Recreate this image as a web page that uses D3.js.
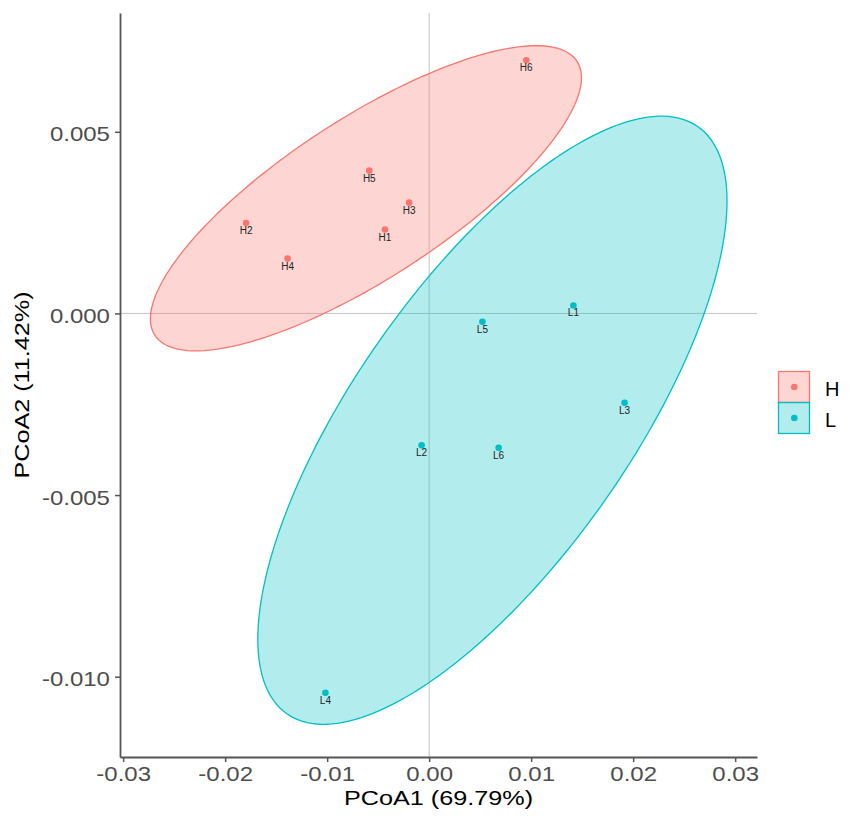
<!DOCTYPE html>
<html><head><meta charset="utf-8">
<script src="https://cdn.jsdelivr.net/npm/d3@7"></script>
<style>
body{margin:0;background:#fff}
text{font-family:"Liberation Sans",Arial,sans-serif}
</style>
</head><body>
<svg id="c" width="851" height="820"></svg>
<script>
// ---- data ----
const groups = ["H", "L"];
const groupColors = ["#F8766D", "#00BFC4"];
const sampleNames = ["H1","H2","H3","H4","H5","H6","L1","L2","L3","L4","L5","L6"];
const sampleGroup = ["H","H","H","H","H","H","L","L","L","L","L","L"];
const pcoa1 = [-0.00433,-0.01795,-0.00196,-0.01388,-0.00587,0.00952, 0.01414,-0.00074,0.01916,-0.01017,0.00522,0.00681];
const pcoa2 = [0.00231,0.00249,0.00305,0.00151,0.00393,0.00697, 0.00022,-0.00363,-0.00246,-0.01044,-0.00023,-0.00370];
const xTicks = [-0.03,-0.02,-0.01,0.00,0.01,0.02,0.03];
const yTicks = [-0.010,-0.005,0.000,0.005];
const xLimits = [-0.03031, 0.03214];
const yLimits = [-0.01221, 0.00827];
// 95% confidence ellipses (center, half-extents, correlation)
const ellCx = [-0.00620, 0.00620];
const ellCy = [0.00317, -0.00294];
const ellRx = [0.02113, 0.02300];
const ellRy = [0.00420, 0.00837];
const ellRho = [0.79, 0.72];
const xTitle = "PCoA1 (69.79%)";
const yTitle = "PCoA2 (11.42%)";

// ---- chart ----
const svg = d3.select("#c");
const L = 120, R = 757, T = 13, B = 757;
const x = d3.scaleLinear().domain(xLimits).range([L, R]);
const y = d3.scaleLinear().domain(yLimits).range([B, T]);
const color = d3.scaleOrdinal().domain(groups).range(groupColors);
const SX = 1.2;

// reference lines
svg.append("line").attr("x1", x(0)).attr("x2", x(0)).attr("y1", T).attr("y2", B)
  .attr("stroke", "#c4c4c4").attr("stroke-width", 1);
svg.append("line").attr("x1", L).attr("x2", R).attr("y1", y(0)).attr("y2", y(0))
  .attr("stroke", "#c4c4c4").attr("stroke-width", 1);

// ellipses
const line = d3.line().x(d => x(d[0])).y(d => y(d[1])).curve(d3.curveLinearClosed);
groups.forEach((g, i) => {
  const pts = d3.range(0, 200).map(k => {
    const t = k / 200 * 2 * Math.PI;
    return [ellCx[i] + ellRx[i] * Math.cos(t),
            ellCy[i] + ellRy[i] * (ellRho[i] * Math.cos(t) + Math.sqrt(1 - ellRho[i] ** 2) * Math.sin(t))];
  });
  svg.append("path").attr("d", line(pts))
    .attr("fill", color(g)).attr("fill-opacity", 0.3)
    .attr("stroke", color(g)).attr("stroke-width", 1.3);
});

// points and labels
const samples = sampleNames.map((n, i) => ({name: n, g: sampleGroup[i], x: pcoa1[i], y: pcoa2[i]}));
svg.append("g").selectAll("circle").data(samples).join("circle")
  .attr("cx", d => x(d.x)).attr("cy", d => y(d.y)).attr("r", 3.3)
  .attr("fill", d => color(d.g));
svg.append("g").selectAll("text").data(samples).join("text")
  .attr("x", d => x(d.x)).attr("y", d => y(d.y) + 11)
  .attr("text-anchor", "middle").attr("font-size", 10).attr("fill", "#222")
  .text(d => d.name);

// axes
const axColor = "#555";
const gx = svg.append("g").attr("transform", `translate(0,${B})`)
  .call(d3.axisBottom(x).tickValues(xTicks).tickFormat(d => d.toFixed(2)).tickSize(5).tickSizeOuter(0));
const gy = svg.append("g").attr("transform", `translate(${L},0)`)
  .call(d3.axisLeft(y).tickValues(yTicks).tickFormat(d => d.toFixed(3)).tickSize(5).tickSizeOuter(0));
[gx, gy].forEach(g => {
  g.select(".domain").attr("stroke", axColor).attr("stroke-width", 1.8);
  g.selectAll(".tick line").attr("stroke", axColor).attr("stroke-width", 1.5);
  g.selectAll(".tick text").attr("fill", "#4d4d4d").attr("font-size", 20)
    .attr("font-family", '"Liberation Sans",Arial,sans-serif');
});
gx.selectAll(".tick text").attr("y", 10).attr("dy", "0.71em").attr("transform", `scale(${SX},1)`);
gy.selectAll(".tick text").attr("x", -8.4).attr("dy", "0.45em").attr("transform", `scale(${SX},1)`);

// axis titles
svg.append("text").attr("transform", `translate(${(L + R) / 2},805) scale(${SX},1)`)
  .attr("text-anchor", "middle").attr("font-size", 21).attr("fill", "#000").text(xTitle);
svg.append("text").attr("transform", `translate(28.6,${(T + B) / 2}) rotate(-90) scale(${SX},1)`)
  .attr("text-anchor", "middle").attr("font-size", 21).attr("fill", "#000").text(yTitle);

// legend
const leg = svg.append("g").attr("transform", "translate(778.5,371.5)");
groups.forEach((g, i) => {
  const gg = leg.append("g").attr("transform", `translate(0,${i * 31})`);
  gg.append("rect").attr("width", 31).attr("height", 31)
    .attr("fill", color(g)).attr("fill-opacity", 0.3)
    .attr("stroke", color(g)).attr("stroke-width", 1.3);
  gg.append("circle").attr("cx", 15.8).attr("cy", 15.5).attr("r", 3.3).attr("fill", color(g));
  gg.append("text").attr("x", 46.5).attr("y", 24.5).attr("font-size", 20)
    .attr("fill", "#000").text(g);
});
</script>
</body></html>
